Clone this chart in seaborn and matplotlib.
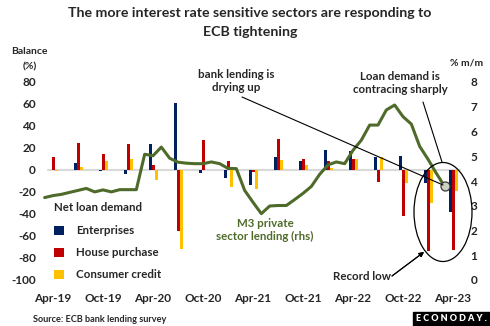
import numpy as np
import pandas as pd
import matplotlib
matplotlib.use("Agg")
import matplotlib.pyplot as plt
import seaborn as sns
from matplotlib.patches import Ellipse, Rectangle

# ---------------- data ----------------
quarters = ["Apr-19", "Jul-19", "Oct-19", "Jan-20", "Apr-20", "Jul-20", "Oct-20", "Jan-21",
            "Apr-21", "Jul-21", "Oct-21", "Jan-22", "Apr-22", "Jul-22", "Oct-22", "Jan-23", "Apr-23"]
enterprises = [0, 6, -1, -4, 24, 61, -3, -7, -14, 12, 8, 18, 17, 12, 13, -12, -38]
house_purchase = [12, 25, 15, 24, 5, -55, 27, 8, -2, 28, 10, 8, 10, -11, -42, -74, -73]
consumer_credit = [-1, 3, 8, 10, -9, -72, 0, -15, -17, 9, 5, 2, 10, 12, -12, -30, -19]

# monthly M3 private sector lending, Mar-19 .. Mar-23 (rhs)
m3_lending = [3.33, 3.41, 3.46, 3.54, 3.62, 3.70, 3.56, 3.64, 3.56, 3.65, 3.65, 3.65,
              5.08, 5.02, 5.37, 4.92, 4.76, 4.72, 4.70, 4.70, 4.77, 4.70, 4.51, 4.50,
              3.62, 3.14, 2.68, 2.99, 3.01, 3.01, 3.25, 3.50, 3.78, 4.27, 4.65, 4.77,
              4.70, 5.24, 5.65, 6.26, 6.26, 6.87, 7.07, 6.60, 6.30, 5.40, 4.88, 4.31, 3.78]

x_tick_labels = ["Apr-19", "Oct-19", "Apr-20", "Oct-20", "Apr-21", "Oct-21", "Apr-22", "Oct-22", "Apr-23"]
left_ticks = [-100, -80, -60, -40, -20, 0, 20, 40, 60, 80]
right_ticks = [0, 1, 2, 3, 4, 5, 6, 7, 8]

series_names = ["Enterprises", "House purchase", "Consumer credit"]
colors = {"Enterprises": "#002060", "House purchase": "#C00000", "Consumer credit": "#FFC000"}
green = "#4F6B2A"

# months index: Apr-19 = 0
q_month = [3 * i for i in range(len(quarters))]
df = pd.DataFrame({
    "month": q_month * 3,
    "series": sum([[s] * len(quarters) for s in series_names], []),
    "value": enterprises + house_purchase + consumer_credit,
})
line_months = list(range(-1, -1 + len(m3_lending)))

# ---------------- figure ----------------
W, H = 490, 326
sns.set_theme(style="white")
plt.rcParams["font.family"] = ["Lato", "DejaVu Sans"]
plt.rcParams["font.weight"] = "bold"
fig = plt.figure(figsize=(W / 100, H / 100), dpi=100)

px_per_month = 400 / 48
x0 = 53
ax_left, ax_right, ax_top, ax_bottom = 40, 462, 82, 280
ax = fig.add_axes([ax_left / W, 1 - ax_bottom / H, (ax_right - ax_left) / W, (ax_bottom - ax_top) / H])
xlim = ((ax_left - x0) / px_per_month, (ax_right - x0) / px_per_month)

sns.barplot(data=df, x="month", y="value", hue="series", hue_order=series_names,
            palette=colors, native_scale=True, width=0.36, saturation=1,
            errorbar=None, ax=ax, linewidth=0)
ax.axhline(0, color="#d9d9d9", lw=1.5, zorder=0.5, xmin=0.02, xmax=0.995)
ax.set_xlim(*xlim)
ax.set_ylim(-100, 80)
ax.set_yticks(left_ticks)
ax.set_yticklabels([str(v) for v in left_ticks], fontsize=8.5, fontweight="bold")
ax.set_xticks(q_month[::2])
ax.set_xticklabels(x_tick_labels, fontsize=8.5, fontweight="bold")
ax.tick_params(axis="both", length=0, pad=3)
ax.tick_params(axis="x", pad=9)
ax.set_xlabel("")
ax.set_ylabel("")
for s in ax.spines.values():
    s.set_visible(False)

handles, labels = ax.get_legend_handles_labels()
leg = ax.legend(handles, labels, title="Net loan demand", loc="upper left",
                bbox_to_anchor=(54 / W, 1 - 202 / H), bbox_transform=fig.transFigure,
                frameon=False, handlelength=0.85, handleheight=0.85, handletextpad=1.1,
                labelspacing=0.95, borderpad=0, borderaxespad=0, alignment="left",
                prop={"size": 8.3, "weight": "bold"},
                title_fontproperties={"size": 8.3, "weight": "bold"})
leg._legend_box.sep = 9
for h in leg.legend_handles:
    h.set_linewidth(0)

ax2 = ax.twinx()
sns.lineplot(x=line_months, y=m3_lending, ax=ax2, color=green, lw=2.2)
ax2.set_ylim(0, 8)
ax2.set_xlim(*xlim)
ax2.set_yticks(right_ticks)
ax2.set_yticklabels([str(v) for v in right_ticks], fontsize=8.5, fontweight="bold")
ax2.tick_params(axis="y", length=0, pad=6)
ax2.set_ylabel("")
for s in ax2.spines.values():
    s.set_visible(False)
ax2.grid(False)
ax.grid(False)

# end point marker
ax2.plot(line_months[-1], m3_lending[-1], "o", ms=6.5, mfc="#c9d3c1", mec="#3a3a3a", mew=0.9, zorder=5)

# ---------------- annotations (figure px coords) ----------------
def fx(x):
    return x / W

def fy(y):
    return 1 - y / H

fig.text(fx(250), fy(13), "The more interest rate sensitive sectors are responding to",
         ha="center", va="center", fontsize=10.2, fontweight="bold")
fig.text(fx(250), fy(32), "ECB tightening", ha="center", va="center", fontsize=10.2, fontweight="bold")
fig.text(fx(29), fy(52), "Balance", ha="center", va="center", fontsize=7.5, fontweight="bold")
fig.text(fx(29.5), fy(67), "(%)", ha="center", va="center", fontsize=7.5, fontweight="bold")
fig.text(fx(467), fy(63), "% m/m", ha="center", va="center", fontsize=7.5, fontweight="bold")

fig.text(fx(236), fy(81), "bank lending is\ndrying up", ha="center", va="center",
         fontsize=8.3, fontweight="bold", linespacing=1.15)
fig.text(fx(400), fy(83), "Loan demand is\ncontracing sharply", ha="center", va="center",
         fontsize=8.3, fontweight="bold", linespacing=1.15)
fig.text(fx(265), fy(230), "M3 private\nsector lending (rhs)", ha="center", va="center",
         fontsize=8.3, fontweight="bold", color=green, linespacing=1.15)
fig.text(fx(362), fy(276), "Record low", ha="center", va="center", fontsize=8.3, fontweight="bold")

fig.add_artist(plt.Line2D([fx(242), fx(443)], [fy(97), fy(185)], color="black", lw=0.8))
fig.add_artist(plt.Line2D([fx(423), fx(442)], [fy(102), fy(162)], color="black", lw=0.8))
fig.add_artist(Ellipse((fx(443), fy(212)), 58 / W, 99 / H, transform=fig.transFigure,
                       fill=False, ec="black", lw=0.9))
fig.add_artist(plt.annotate("", xy=(fx(424), fy(252)), xytext=(fx(392), fy(276)),
                            xycoords="figure fraction", textcoords="figure fraction",
                            arrowprops=dict(arrowstyle="-|>", color="black", lw=0.8,
                                            mutation_scale=7, shrinkA=0, shrinkB=0)))

fig.text(fx(33), fy(320), "Source: ECB bank lending survey", ha="left", va="center",
         fontsize=6.6, fontweight="bold")
fig.add_artist(Rectangle((fx(413), fy(326)), 77 / W, 14.5 / H, transform=fig.transFigure,
                         color="black"))
fig.text(fx(451), fy(318.5), "E C O N O D A Y .", ha="center", va="center", fontsize=6.5,
         fontweight="heavy", color="white")

fig.savefig("out.png", dpi=100)
